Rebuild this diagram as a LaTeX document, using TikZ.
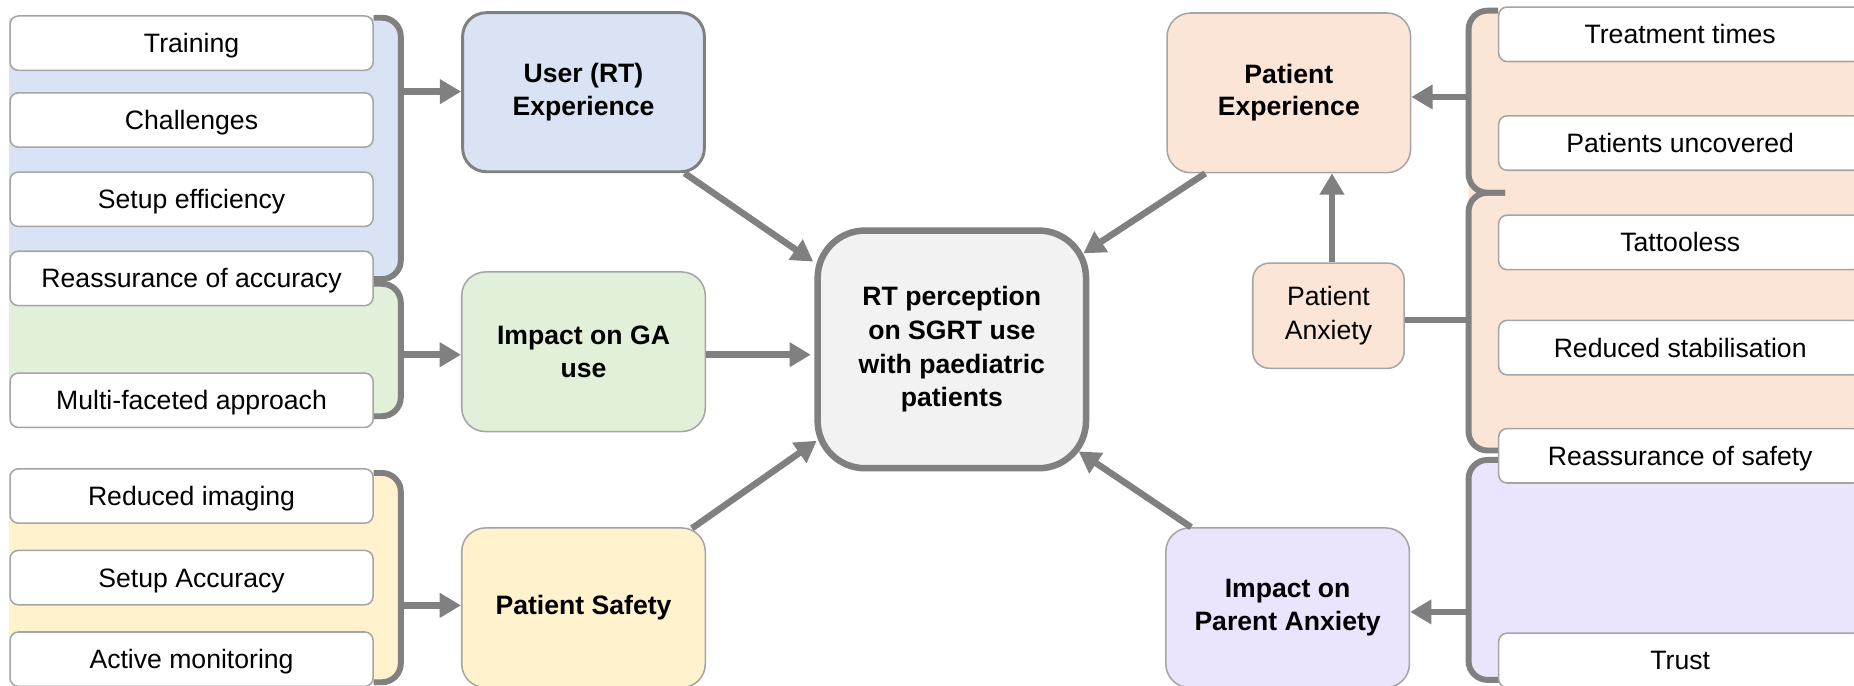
\documentclass[tikz,border=0pt]{standalone}
\usepackage{fontspec}
\setmainfont{Liberation Sans}
\usetikzlibrary{arrows.meta,calc}
\definecolor{cblue}{RGB}{218,227,243}
\definecolor{cgreen}{RGB}{226,240,217}
\definecolor{cyellow}{RGB}{255,242,204}
\definecolor{cpeach}{RGB}{251,229,214}
\definecolor{clav}{RGB}{234,228,252}
\definecolor{ccenter}{RGB}{242,242,242}
\definecolor{cline}{RGB}{128,128,128}
\definecolor{cedge}{RGB}{165,165,165}
\begin{document}
\begin{tikzpicture}[x=1pt,y=-1pt,
 font=\fontsize{22.5}{27}\selectfont,
 item/.style={draw=cedge, line width=1.3pt, fill=white, rounded corners=7pt, minimum width=307pt, minimum height=46pt, inner sep=0pt, text height=16pt, text depth=0pt},
 topic/.style={draw=cedge, line width=1.3pt, rounded corners=20pt, minimum width=206pt, minimum height=135pt, align=center, font=\fontsize{22.5}{27.5}\selectfont\bfseries, inner sep=0pt},
 arr/.style={draw=cline, line width=5.5pt, -{Triangle[length=18pt,width=20pt]}},
 link/.style={draw=cline, line width=5.5pt},
 brk/.style={draw=cline, line width=5pt, rounded corners=16pt},
]
\useasboundingbox (0,0) rectangle (1568,580);
\clip (0,0) rectangle (1568,580);

% background regions
\fill[cblue, rounded corners=18pt] (8,15) rectangle (339,236);
\fill[cblue] (8,15) rectangle (300,236);
\fill[cgreen, rounded corners=18pt] (8,240) rectangle (339,352);
\fill[cgreen] (8,240) rectangle (300,352);
\fill[cyellow, rounded corners=18pt] (8,400) rectangle (339,577);
\fill[cyellow] (8,400) rectangle (300,577);
\fill[cpeach, rounded corners=18pt] (1242,9) rectangle (1620,381);
\fill[clav, rounded corners=18pt] (1242,389) rectangle (1620,575);

% brackets
\draw[brk] (316,15) -- (339,15) -- (339,236) -- (316,236);
\draw[brk] (316,240) -- (339,240) -- (339,352) -- (316,352);
\draw[brk] (316,400) -- (339,400) -- (339,577) -- (316,577);
\draw[brk] (1267,9) -- (1242,9) -- (1242,163) -- (1273,163);
\draw[brk] (1273,163) -- (1242,163) -- (1242,381) -- (1268,381);
\draw[brk] (1268,389) -- (1242,389) -- (1242,575) -- (1268,575);

% left items
\node[item] (l1) at (162,36.5) {Training};
\node[item] (l2) at (162,101.5) {Challenges};
\node[item] (l3) at (162,168.5) {Setup efficiency};
\node[item] (l4) at (162,235.5) {Reassurance of accuracy};
\node[item] (l5) at (162,338.5) {Multi-faceted approach};
\node[item] (l6) at (162,419.5) {Reduced imaging};
\node[item] (l7) at (162,488.5) {Setup Accuracy};
\node[item] (l8) at (162,557.5) {Active monitoring};

% right items
\node[item] (r1) at (1421,29) {Treatment times};
\node[item] (r2) at (1421,121) {Patients uncovered};
\node[item] (r3) at (1421,205) {Tattooless};
\node[item] (r4) at (1421,294) {Reduced stabilisation};
\node[item] (r5) at (1421,385.5) {Reassurance of safety};
\node[item] (r6) at (1421,558.5) {Trust};

% topics
\node[topic, fill=cblue, draw=cline, line width=2.5pt, minimum width=204.5pt, minimum height=134.5pt] (user) at (493.5,78) {User (RT)\\Experience};
\node[topic, fill=cgreen] (ga) at (493.5,297.5) {Impact on GA\\use};
\node[topic, fill=cyellow] (safety) at (493.5,514) {Patient Safety};
\node[topic, fill=ccenter, draw=cline, line width=5.5pt, minimum width=227pt, minimum height=201pt, rounded corners=40pt, font=\fontsize{22.5}{28.5}\selectfont\bfseries] (center) at (805,295.5) {RT perception\\on SGRT use\\with paediatric\\patients};
\node[topic, fill=cpeach] (pexp) at (1090,78.5) {Patient\\Experience};
\node[topic, fill=cpeach, font=\fontsize{22.5}{29}\selectfont, minimum width=128pt, minimum height=89pt, rounded corners=14pt] (panx) at (1123.5,267) {Patient\\Anxiety};
\node[topic, fill=clav] (parent) at (1089,514) {Impact on\\Parent Anxiety};

% bracket connectors
\coordinate (bu) at (339,77.5);
\coordinate (bg) at (339,300);
\coordinate (bs) at (339,512);
\coordinate (bp) at (1242,82);
\coordinate (ba) at (1242,270.6);
\coordinate (bv) at (1242,517.5);
\draw[arr] (bu) -- (bu -| user.west);
\draw[arr] (bg) -- (bg -| ga.west);
\draw[arr] (bs) -- (bs -| safety.west);
\draw[arr] (bp) -- (bp -| pexp.east);
\draw[link] (ba) -- (ba -| panx.east);
\draw[arr] (bv) -- (bv -| parent.east);

% to center
\draw[arr] ($(user.south east)+(-18,0)$) -- ($(center.north west)+(-1,29)$);
\draw[arr] ($(ga.east)+(0,2.5)$) -- ($(center.west)+(-3,4.5)$);
\draw[arr] ($(safety.north east)+(-12,1)$) -- ($(center.south west)+(2,-26)$);
\draw[arr] ($(pexp.south west)+(33,0)$) -- ($(center.north east)+(-5,22)$);
\draw[arr] ($(parent.north west)+(22,0)$) -- ($(center.south east)+(-9,-17)$);
\path ($(panx.north)+(3,0)$) coordinate (pa);
\draw[arr] (pa) -- (pa |- pexp.south);
\end{tikzpicture}
\end{document}
